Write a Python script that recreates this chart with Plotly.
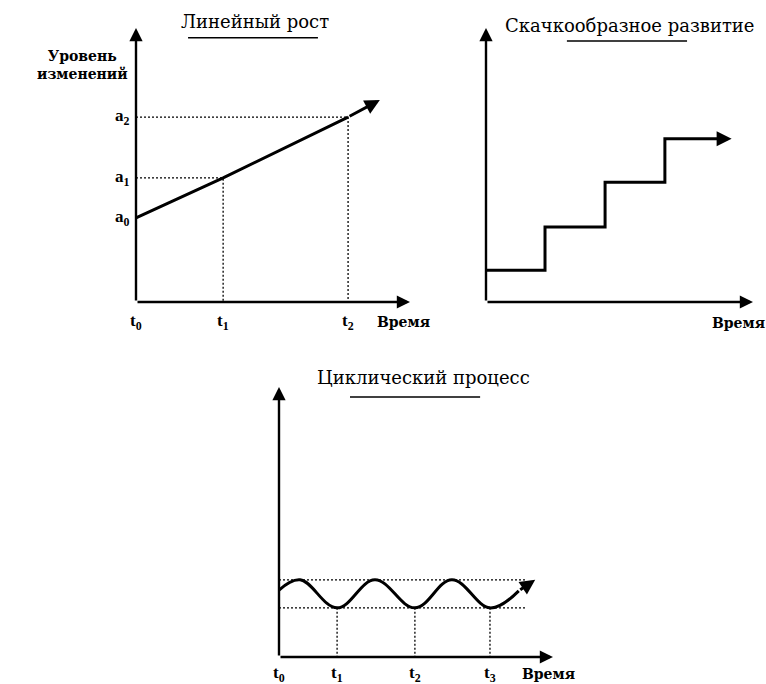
import plotly.graph_objects as go

# ---------- data ----------
# Panel 1: linear growth
lin_time = [0.0, 3.18, 7.74, 8.9]
lin_level = [3.07, 4.53, 6.75, 7.37]
lin_tick_labels = ["t<sub>0</sub>", "t<sub>1</sub>", "t<sub>2</sub>"]
lin_level_labels = ["a<sub>0</sub>", "a<sub>1</sub>", "a<sub>2</sub>"]

# Panel 2: step development
step_time = [0.0, 2.21, 4.46, 6.70, 9.2]
step_level = [1.16, 2.74, 4.37, 5.96, 5.96]

# Panel 3: cyclic process (start, peaks/troughs, end)
cyc_time = [0.0, 0.77, 2.12, 3.50, 4.96, 6.31, 7.70, 8.75, 9.35]
cyc_level = [2.48, 2.86, 1.82, 2.86, 1.82, 2.86, 1.82, 2.45, 2.86]
cyc_max, cyc_min = 2.86, 1.82
cyc_ticks = [0.0, 2.12, 4.96, 7.70]
cyc_tick_labels = ["t<sub>0</sub>", "t<sub>1</sub>", "t<sub>2</sub>", "t<sub>3</sub>"]

axis_len = 10
titles = ["Линейный рост", "Скачкообразное развитие", "Циклический процесс"]
y_title = "Уровень<br>изменений"
x_title = "Время"

# ---------- figure ----------
W, H = 766, 684
SERIF = "Liberation Serif, serif"
CYR = "DejaVu Serif, serif"
BLK = "black"

fig = go.Figure()

panels = {
    "1": dict(ox=136, oy=302, ux=27.4, uy=27.4, xr=[-4.6, 11.5], yr=[-1.3, 11.0]),
    "2": dict(ox=486, oy=302, ux=26.7, uy=27.4, xr=[-0.5, 10.4], yr=[-1.3, 11.0]),
    "3": dict(ox=279, oy=657, ux=27.4, uy=27.0, xr=[-1.0, 11.2], yr=[-0.95, 10.8]),
}

layout_axes = {}
for k, p in panels.items():
    sx = "" if k == "1" else k
    x0 = (p["ox"] + p["xr"][0] * p["ux"]) / W
    x1 = (p["ox"] + p["xr"][1] * p["ux"]) / W
    y0 = 1 - (p["oy"] - p["yr"][0] * p["uy"]) / H
    y1 = 1 - (p["oy"] - p["yr"][1] * p["uy"]) / H
    layout_axes[f"xaxis{sx}"] = dict(domain=[x0, x1], range=p["xr"], visible=False,
                                     anchor=f"y{sx}", fixedrange=True)
    layout_axes[f"yaxis{sx}"] = dict(domain=[y0, y1], range=p["yr"], visible=False,
                                     anchor=f"x{sx}", fixedrange=True)

dot = dict(color=BLK, width=1.3, dash="2px,2px")

ann = []
shapes = []

def head(xr, yr, x0, y0, x1, y1, width=3, size=1.0):
    ann.append(dict(x=x1, y=y1, ax=x0, ay=y0, xref=xr, yref=yr, axref=xr, ayref=yr,
                    showarrow=True, arrowhead=2, arrowsize=size, arrowwidth=width,
                    arrowcolor=BLK, standoff=0, startstandoff=0, text=""))

def curve(xs, ys, xa, ya, shape="linear"):
    # line through all but last point, arrow for the final segment
    fig.add_trace(go.Scatter(x=xs[:-1], y=ys[:-1], mode="lines", xaxis=xa, yaxis=ya,
                             hoverinfo="skip",
                             line=dict(color=BLK, width=3, shape=shape, smoothing=1.1)))
    head(xa, ya, xs[-2], ys[-2], xs[-1], ys[-1])

def axis_arrows(xa, ya):
    head(xa, ya, 0, 0, axis_len, 0, width=2.4, size=1.1)
    head(xa, ya, 0, 0, 0, axis_len, width=2.4, size=1.1)

def dotted(xs, ys, xa, ya):
    fig.add_trace(go.Scatter(x=xs, y=ys, mode="lines", line=dot, xaxis=xa, yaxis=ya,
                             hoverinfo="skip"))

def label(xr, yr, x, y, text, size=15, bold=True, family=SERIF, xanchor="center",
          yanchor="middle", xshift=0, yshift=0, align="center"):
    t = f"<b>{text}</b>" if bold else text
    ann.append(dict(x=x, y=y, xref=xr, yref=yr, text=t, showarrow=False,
                    xanchor=xanchor, yanchor=yanchor, xshift=xshift, yshift=yshift,
                    align=align, font=dict(family=family, size=size, color=BLK)))

# ---- Panel 1 ----
t1, t2 = lin_time[1], lin_time[2]
a1, a2 = lin_level[1], lin_level[2]
dotted([0, t2, t2], [a2, a2, 0], "x", "y")
dotted([0, t1, t1], [a1, a1, 0], "x", "y")
curve(lin_time, lin_level, "x", "y")
axis_arrows("x", "y")
for tx, tl in zip(lin_time[:3], lin_tick_labels):
    label("x", "y", tx, 0, tl, size=17, yshift=-20)
for lv, ll in zip(lin_level[:3], lin_level_labels):
    label("x", "y", 0, lv, ll, size=17, xanchor="right", xshift=-4)
label("x", "y", 8.72, 0, x_title, size=14, family=CYR, xanchor="left", yshift=-20)
label("x", "y", -1.95, 8.65, y_title, size=14, family=CYR)
label("x", "y", 4.34, 10.22, titles[0], size=18, bold=False, family=CYR)
shapes.append(dict(type="line", xref="x", yref="y", x0=1.9, x1=6.64, y0=9.64, y1=9.64,
                   line=dict(color=BLK, width=1.5)))

# ---- Panel 2 ----
fig.add_trace(go.Scatter(x=step_time[:-1] + [step_time[-1] - 0.45],
                         y=step_level, mode="lines", xaxis="x2", yaxis="y2",
                         hoverinfo="skip", line=dict(color=BLK, width=3, shape="hv")))
head("x2", "y2", step_time[-1] - 0.5, step_level[-1], step_time[-1], step_level[-1])
axis_arrows("x2", "y2")
label("x2", "y2", 9.45, 0, x_title, size=14, family=CYR, yshift=-21)
label("x2", "y2", 5.39, 10.1, titles[1], size=18, bold=False, family=CYR)
shapes.append(dict(type="line", xref="x2", yref="y2", x0=3.03, x1=7.53, y0=9.53, y1=9.53,
                   line=dict(color=BLK, width=1.5)))

# ---- Panel 3 ----
dotted([0, 9.0], [cyc_max, cyc_max], "x3", "y3")
dotted([0, 9.0], [cyc_min, cyc_min], "x3", "y3")
for tx in cyc_ticks[1:]:
    dotted([tx, tx], [cyc_min, 0], "x3", "y3")
curve(cyc_time, cyc_level, "x3", "y3", shape="spline")
axis_arrows("x3", "y3")
for tx, tl in zip(cyc_ticks, cyc_tick_labels):
    label("x3", "y3", tx, 0, tl, size=17, yshift=-17)
label("x3", "y3", 9.82, 0, x_title, size=14, family=CYR, yshift=-17)
label("x3", "y3", 5.26, 10.37, titles[2], size=18, bold=False, family=CYR)
shapes.append(dict(type="line", xref="x3", yref="y3", x0=2.59, x1=7.34, y0=9.63, y1=9.63,
                   line=dict(color=BLK, width=1.5)))

fig.update_layout(width=W, height=H, margin=dict(l=0, r=0, t=0, b=0),
                  paper_bgcolor="white", plot_bgcolor="white", showlegend=False,
                  annotations=ann, shapes=shapes, **layout_axes)

fig.write_html("out.html", config={"displayModeBar": False},
               post_script="document.body.style.margin='0';")
